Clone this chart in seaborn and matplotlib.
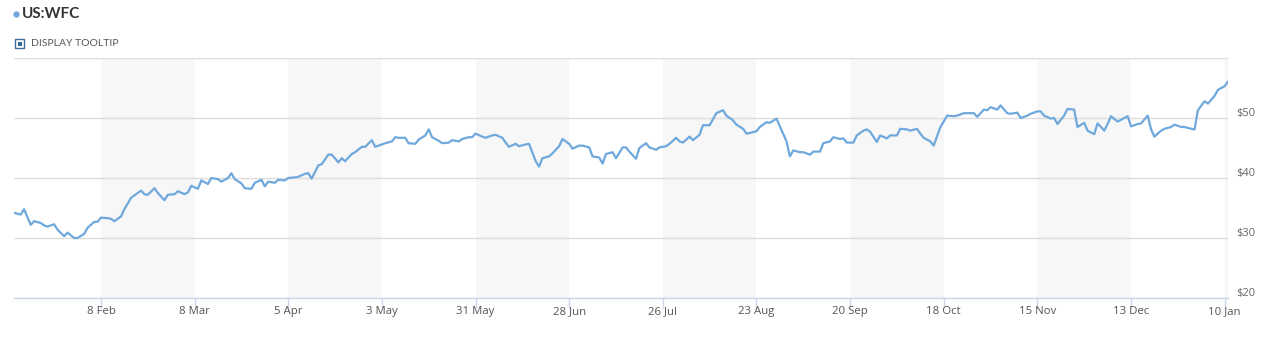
import matplotlib
matplotlib.use("Agg")
import matplotlib.pyplot as plt
import seaborn as sns
import pandas as pd
from matplotlib.transforms import ScaledTranslation
from matplotlib.patches import Rectangle
from matplotlib.lines import Line2D

# ---------------- data ----------------
dates = [
    "2021-01-13", "2021-01-15", "2021-01-16", "2021-01-18", "2021-01-19", "2021-01-21", "2021-01-22", "2021-01-23",
    "2021-01-25", "2021-01-26", "2021-01-28", "2021-01-29", "2021-01-31",
    "2021-02-01", "2021-02-03", "2021-02-04", "2021-02-06", "2021-02-07", "2021-02-08", "2021-02-10", "2021-02-11",
    "2021-02-12", "2021-02-14", "2021-02-15", "2021-02-17", "2021-02-18", "2021-02-20", "2021-02-21", "2021-02-22",
    "2021-02-24", "2021-02-25", "2021-02-27", "2021-02-28",
    "2021-03-02", "2021-03-03", "2021-03-05", "2021-03-06", "2021-03-07", "2021-03-09", "2021-03-10", "2021-03-12",
    "2021-03-13", "2021-03-15", "2021-03-16", "2021-03-18", "2021-03-19", "2021-03-20", "2021-03-22", "2021-03-23",
    "2021-03-25", "2021-03-26", "2021-03-28", "2021-03-29", "2021-03-30",
    "2021-04-01", "2021-04-02", "2021-04-04", "2021-04-05", "2021-04-07", "2021-04-08", "2021-04-10", "2021-04-11",
    "2021-04-12", "2021-04-14", "2021-04-15", "2021-04-17", "2021-04-18", "2021-04-20", "2021-04-21", "2021-04-22",
    "2021-04-24", "2021-04-25", "2021-04-27", "2021-04-28", "2021-04-30",
    "2021-05-01", "2021-05-03", "2021-05-04", "2021-05-06", "2021-05-07", "2021-05-08", "2021-05-10", "2021-05-11",
    "2021-05-13", "2021-05-14", "2021-05-16", "2021-05-17", "2021-05-18", "2021-05-20", "2021-05-21", "2021-05-23",
    "2021-05-24", "2021-05-26", "2021-05-27", "2021-05-29", "2021-05-30", "2021-05-31",
    "2021-06-02", "2021-06-03", "2021-06-05", "2021-06-06", "2021-06-08", "2021-06-09", "2021-06-10", "2021-06-12",
    "2021-06-13", "2021-06-15", "2021-06-16", "2021-06-18", "2021-06-19", "2021-06-20", "2021-06-22", "2021-06-23",
    "2021-06-25", "2021-06-26", "2021-06-28", "2021-06-29",
    "2021-07-01", "2021-07-02", "2021-07-04", "2021-07-05", "2021-07-07", "2021-07-08", "2021-07-09", "2021-07-11",
    "2021-07-12", "2021-07-14", "2021-07-15", "2021-07-16", "2021-07-18", "2021-07-19", "2021-07-21", "2021-07-22",
    "2021-07-24", "2021-07-25", "2021-07-27", "2021-07-28", "2021-07-30", "2021-07-31",
    "2021-08-01", "2021-08-03", "2021-08-04", "2021-08-06", "2021-08-07", "2021-08-09", "2021-08-10", "2021-08-11",
    "2021-08-13", "2021-08-14", "2021-08-16", "2021-08-17", "2021-08-19", "2021-08-20", "2021-08-21", "2021-08-23",
    "2021-08-24", "2021-08-26", "2021-08-27", "2021-08-29", "2021-08-30",
    "2021-09-01", "2021-09-02", "2021-09-03", "2021-09-05", "2021-09-06", "2021-09-08", "2021-09-09", "2021-09-11",
    "2021-09-12", "2021-09-14", "2021-09-15", "2021-09-17", "2021-09-18", "2021-09-19", "2021-09-21", "2021-09-22",
    "2021-09-24", "2021-09-25", "2021-09-26", "2021-09-28", "2021-09-29",
    "2021-10-01", "2021-10-02", "2021-10-04", "2021-10-05", "2021-10-07", "2021-10-08", "2021-10-10", "2021-10-11",
    "2021-10-12", "2021-10-14", "2021-10-15", "2021-10-17", "2021-10-18", "2021-10-19", "2021-10-21", "2021-10-22",
    "2021-10-24", "2021-10-25", "2021-10-27", "2021-10-28", "2021-10-30", "2021-10-31",
    "2021-11-01", "2021-11-03", "2021-11-04", "2021-11-06", "2021-11-07", "2021-11-09", "2021-11-10", "2021-11-12",
    "2021-11-13", "2021-11-15", "2021-11-16", "2021-11-17", "2021-11-19", "2021-11-20", "2021-11-21", "2021-11-23",
    "2021-11-24", "2021-11-26", "2021-11-27", "2021-11-29", "2021-11-30",
    "2021-12-02", "2021-12-03", "2021-12-05", "2021-12-06", "2021-12-07", "2021-12-09", "2021-12-10", "2021-12-12",
    "2021-12-13", "2021-12-15", "2021-12-16", "2021-12-18", "2021-12-19", "2021-12-20", "2021-12-22", "2021-12-23",
    "2021-12-25", "2021-12-26", "2021-12-28", "2021-12-29", "2021-12-31",
    "2022-01-01", "2022-01-02", "2022-01-04", "2022-01-05", "2022-01-07", "2022-01-08", "2022-01-10", "2022-01-11",
]

prices = [
    34.2, 33.9, 34.8, 32.2, 32.8, 32.5, 32.1, 31.9, 32.3, 31.4, 30.3, 30.9, 30.0,
    30.0, 30.7, 31.7, 32.7, 32.7, 33.4, 33.3, 33.2, 32.8, 33.6, 34.8, 36.7, 37.1, 37.9, 37.3, 37.2, 38.3, 37.5, 36.3, 37.2,
    37.3, 37.8, 37.3, 37.6, 38.7, 38.2, 39.6, 39.0, 40.0, 39.8, 39.4, 40.0, 40.8, 39.8, 39.1, 38.3, 38.2, 39.2, 39.7, 38.6, 39.4,
    39.2, 39.7, 39.6, 40.0, 40.1, 40.2, 40.7, 40.8, 39.9, 42.1, 42.3, 43.9, 43.9, 42.6, 43.3, 42.8, 44.0, 44.3, 45.2, 45.2, 46.3,
    45.2, 45.6, 45.8, 46.1, 46.8, 46.7, 46.7, 45.8, 45.7, 46.4, 47.1, 48.1, 46.8, 46.2, 45.8, 45.9, 46.3, 46.1, 46.5, 46.8, 46.8, 47.4,
    46.9, 46.7, 47.1, 47.2, 46.7, 45.9, 45.2, 45.7, 45.3, 45.6, 45.7, 42.8, 41.9, 43.3, 43.6, 44.1, 45.3, 46.5, 45.7, 44.9,
    45.4, 45.4, 45.1, 43.6, 43.4, 42.4, 44.0, 44.3, 43.3, 45.1, 45.1, 44.4, 43.2, 45.0, 45.8, 45.1, 44.7, 45.1, 45.3, 45.7, 46.7, 46.1,
    45.9, 46.9, 46.3, 47.2, 48.8, 48.8, 49.8, 50.8, 51.3, 50.4, 49.6, 48.9, 48.2, 47.4, 47.5, 47.8, 48.5, 49.3, 49.2, 49.9, 48.6,
    46.1, 43.6, 44.6, 44.3, 44.3, 43.9, 44.4, 44.4, 45.8, 46.1, 46.8, 46.5, 46.6, 45.9, 45.9, 47.1, 47.9, 48.1, 47.7, 46.0, 47.1,
    46.6, 47.1, 47.1, 48.2, 48.1, 47.9, 48.2, 47.4, 46.7, 46.1, 45.4, 48.5, 49.4, 50.4, 50.3, 50.4, 50.8, 50.8, 50.8, 50.2, 51.4, 51.3,
    51.8, 51.4, 52.1, 50.8, 50.7, 50.9, 50.0, 50.4, 50.7, 51.1, 51.1, 50.4, 49.9, 50.0, 49.0, 50.4, 51.5, 51.4, 48.5, 49.2, 47.9,
    47.3, 49.1, 47.9, 49.0, 50.3, 49.4, 49.7, 50.3, 48.6, 49.0, 49.1, 50.4, 48.1, 46.9, 47.9, 48.2, 48.5, 48.9, 48.5, 48.5, 48.2,
    48.1, 51.3, 52.8, 52.4, 53.7, 54.7, 55.3, 56.1,
]

tick_dates = ["2021-02-08", "2021-03-08", "2021-04-05", "2021-05-03", "2021-05-31", "2021-06-28", "2021-07-26",
              "2021-08-23", "2021-09-20", "2021-10-18", "2021-11-15", "2021-12-13", "2022-01-10"]
tick_labels = ["8 Feb", "8 Mar", "5 Apr", "3 May", "31 May", "28 Jun", "26 Jul",
               "23 Aug", "20 Sep", "18 Oct", "15 Nov", "13 Dec", "10 Jan"]
y_ticks = [20, 30, 40, 50, 60]
y_labels = ["$20", "$30", "$40", "$50", ""]
series_name = "US:WFC"

# ---------------- plot ----------------
sns.set_theme(style="white")
plt.rcParams["font.family"] = ["Open Sans", "DejaVu Sans"]

W, H = 1273, 343
fig = plt.figure(figsize=(W / 100, H / 100), dpi=100)
ax = fig.add_axes([14 / W, 1 - 298 / H, (1228 - 14) / W, 240 / H])

df = pd.DataFrame({"date": pd.to_datetime(dates), "price": prices})
ticks = pd.to_datetime(tick_dates)

# alternating bands
for i in range(0, len(ticks), 2):
    start = ticks[i]
    end = ticks[i + 1] if i + 1 < len(ticks) else df["date"].max()
    ax.axvspan(start, end, color="#f7f7f7", lw=0, zorder=0)

sns.lineplot(data=df, x="date", y="price", ax=ax, color="#6fa8dc", lw=1.6, zorder=3)

ax.set_xlim(df["date"].min(), df["date"].max())
ax.set_ylim(min(y_ticks), max(y_ticks))
ax.set_xlabel("")
ax.set_ylabel("")

ax.set_xticks(ticks)
ax.set_xticklabels(tick_labels)
ax.tick_params(axis="x", length=7, width=1, color="#ccd6eb", labelsize=8.2, labelcolor="#555555", pad=-1.5,
               bottom=True)

ax.yaxis.tick_right()
ax.set_yticks(y_ticks)
ax.set_yticklabels(y_labels)
ax.tick_params(axis="y", length=0, pad=6, labelsize=8, labelcolor="#666666")
for lab in ax.get_yticklabels():
    lab.set_transform(lab.get_transform() + ScaledTranslation(0, 0.06, fig.dpi_scale_trans))

ax.grid(axis="y", color="#dddddd", lw=1, zorder=1)
ax.grid(axis="x", visible=False)
ax.set_axisbelow(True)
for s in ["left", "right", "top"]:
    ax.spines[s].set_visible(False)
ax.spines["bottom"].set_color("#ccd6eb")
ax.spines["bottom"].set_linewidth(1)
ax.spines["bottom"].set_zorder(4)

# header: legend-like title and checkbox
fig.add_artist(Line2D([16 / W], [1 - 13.5 / H], marker="o", ms=3.5, color="#6fa8dc", lw=0,
                      transform=fig.transFigure))
fig.text(21.5 / W, 1 - 13.5 / H, series_name, fontsize=11, fontweight="bold", color="#333333",
         va="center", ha="left", family=["Lato", "DejaVu Sans"])
fig.add_artist(Rectangle((15 / W, 1 - 48 / H), 9 / W, 9 / H, transform=fig.transFigure,
                         fill=False, ec="#3f6f96", lw=1))
fig.add_artist(Rectangle((17.5 / W, 1 - 45.5 / H), 4 / W, 4 / H, transform=fig.transFigure,
                         fc="#2e6a99", ec="none"))
fig.text(31 / W, 1 - 44 / H, "DISPLAY TOOLTIP", fontsize=7.5, color="#555555",
         va="center", ha="left", family=["Lato", "DejaVu Sans"])

fig.savefig("out.png", dpi=100, facecolor="white")
